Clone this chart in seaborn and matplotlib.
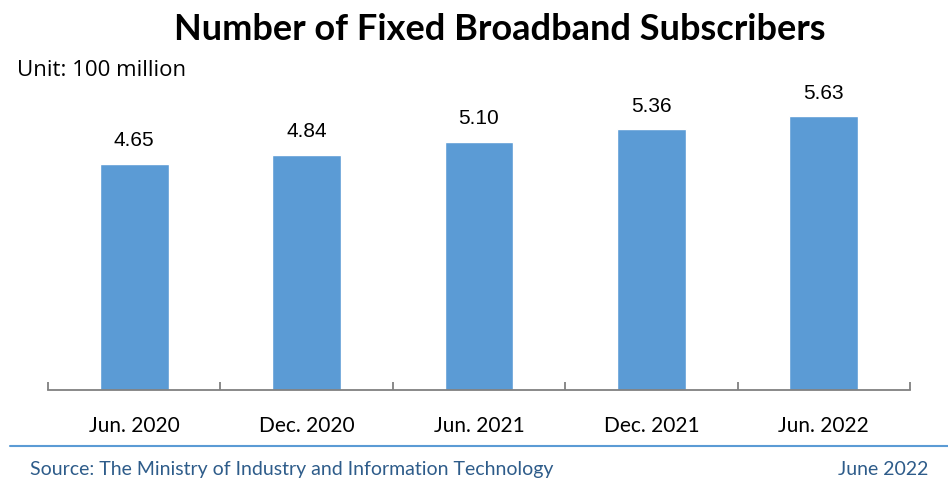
import matplotlib.pyplot as plt
import seaborn as sns
import pandas as pd

# Data
periods = ["Jun. 2020", "Dec. 2020", "Jun. 2021", "Dec. 2021", "Jun. 2022"]
subscribers = [4.65, 4.84, 5.10, 5.36, 5.63]

df = pd.DataFrame({"period": periods, "subscribers": subscribers})

sns.set_style("white")
plt.rcParams["font.family"] = ["Lato", "DejaVu Sans"]
plt.rcParams["text.color"] = "black"
plt.rcParams["xtick.color"] = "black"

fig = plt.figure(figsize=(9.48, 4.81), dpi=100)
ax = fig.add_axes([48 / 948, 90 / 481, 862 / 948, 306 / 481])

sns.barplot(data=df, x="period", y="subscribers", color="#5B9BD5",
            saturation=1, width=0.4, ax=ax)

ax.set_ylim(0, 306 / 48.65)
ax.set_xlim(-0.5, len(periods) - 0.5)

# Value labels
for i, v in enumerate(subscribers):
    ax.text(i, v + 0.3, f"{v:.2f}", ha="center", va="bottom",
            fontsize=15, family="Liberation Sans", color="black")

# Axes styling
for side in ["top", "right", "left"]:
    ax.spines[side].set_visible(False)
ax.spines["bottom"].set_color("#808080")
ax.spines["bottom"].set_linewidth(1.3)
ax.set_yticks([])
ax.set_xlabel("")
ax.set_ylabel("")

ax.set_xticks(range(len(periods)))
ax.set_xticklabels(periods, fontsize=15, color="black")
ax.tick_params(axis="x", which="major", bottom=False, length=0, pad=18)
ax.set_xticks([i - 0.5 for i in range(len(periods) + 1)], minor=True)
ax.tick_params(axis="x", which="minor", bottom=True, length=6,
               color="#808080", width=1.3, direction="in")

# Title and notes
fig.text(500 / 948, 451 / 481, "Number of Fixed Broadband Subscribers",
         ha="center", va="center", fontsize=26, fontweight="bold", color="black")
fig.text(17 / 948, 411 / 481, "Unit: 100 million", ha="left", va="center",
         fontsize=16, family="Open Sans", color="black")

# Footer
fig.add_artist(plt.Line2D([10 / 948, 1.0], [34 / 481, 34 / 481],
                          color="#5B9BD5", linewidth=1.5))
fig.text(30 / 948, 11 / 481, "Source: The Ministry of Industry and Information Technology",
         ha="left", va="center", fontsize=14, color="#2E5C8A")
fig.text(928 / 948, 11 / 481, "June 2022", ha="right", va="center",
         fontsize=14, color="#2E5C8A")

fig.savefig("out.png", dpi=100)
